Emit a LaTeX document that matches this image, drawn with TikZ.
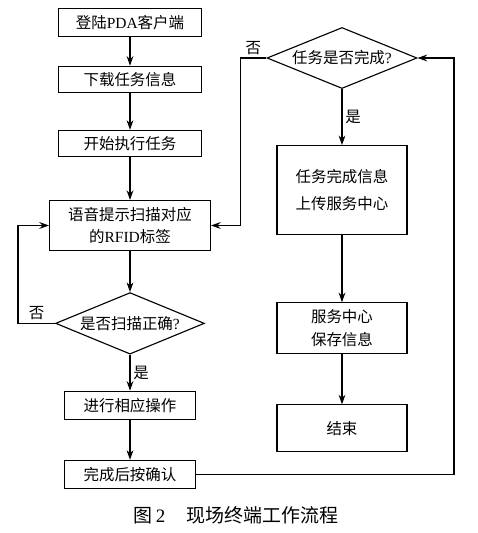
\documentclass[tikz,border=0pt]{standalone}
\usepackage{fontspec}
\setmainfont{Liberation Serif}
\newfontfamily\cjk{Noto Sans CJK SC}
\usepackage{tikz}
\usetikzlibrary{shapes.geometric, arrows.meta, positioning}

\begin{document}
\begin{tikzpicture}[
    stepbox/.style={rectangle, draw, line width=0.8pt, minimum width=3.575cm, minimum height=0.65cm, inner sep=1pt, align=center, font=\cjk\fontsize{11pt}{16pt}\selectfont},
    decision/.style={diamond, draw, line width=0.8pt, aspect=2.11, minimum width=3.72cm, inner sep=0pt, align=center, font=\cjk\fontsize{11pt}{16pt}\selectfont},
    arrow/.style={-{Stealth[length=2.4mm, width=1.7mm]}, line width=0.8pt},
    lbl/.style={font=\cjk\fontsize{11pt}{13pt}\selectfont, inner sep=2pt}
]
\useasboundingbox (-3.25,0.5625) rectangle (8.7,-12.7625);

% Left column
\node[stepbox, minimum height=0.7cm] (login) {登陆{\rmfamily PDA}客户端};
\node[stepbox, below=0.715cm of login] (download) {下载任务信息};
\node[stepbox, below=0.925cm of download] (start) {开始执行任务};
\node[stepbox, minimum width=4.025cm, minimum height=1.25cm, below=1.075cm of start] (prompt) {语音提示扫描对应\\的{\rmfamily RFID}标签};
\node[decision, below=1.025cm of prompt] (scan) {是否扫描正确{\rmfamily ?}};
\node[stepbox, minimum width=3.275cm, minimum height=0.7cm, below=0.9cm of scan] (operate) {进行相应操作};
\node[stepbox, minimum width=3.275cm, minimum height=0.7cm, below=1.0cm of operate] (confirm) {完成后按确认};

% Right column
\node[decision, minimum width=3.75cm, aspect=2.14] (check) at (5.3,-0.8875) {任务是否完成{\rmfamily ?}};
\node[stepbox, minimum width=3.25cm, minimum height=2.225cm, below=1.4cm of check] (upload) {任务完成信息\\[3pt]上传服务中心};
\node[stepbox, minimum width=3.25cm, minimum height=1.275cm, below=1.675cm of upload] (save) {服务中心\\保存信息};
\node[stepbox, minimum width=3.25cm, minimum height=1.175cm, below=1.25cm of save] (finish) {结束};

% Connections
\draw[arrow] (login) -- (download);
\draw[arrow] (download) -- (start);
\draw[arrow] (start) -- (prompt);
\draw[arrow] (prompt) -- (scan);
\draw[arrow] (scan) -- node[lbl, right] {是} (operate);
\draw[arrow] (operate) -- (confirm);
\draw[arrow] (scan.west) -- node[lbl, above] {否} ++(-0.925,0) |- (prompt.west);
\draw[arrow] (confirm.east) -- ++(6.45,0) |- (check.east);
\draw[arrow] (check.west) -- node[lbl, above] {否} ++(-0.65,0) |- (prompt.east);
\draw[arrow] (check) -- node[lbl, right] {是} (upload);
\draw[arrow] (upload) -- (save);
\draw[arrow] (save) -- (finish);

% Caption
\node[font=\cjk\fontsize{13.5pt}{16pt}\selectfont] (caption) at (2.65,-12.3125) {图{\rmfamily\,2}\hspace{1.1em}现场终端工作流程};

\end{tikzpicture}
\end{document}
